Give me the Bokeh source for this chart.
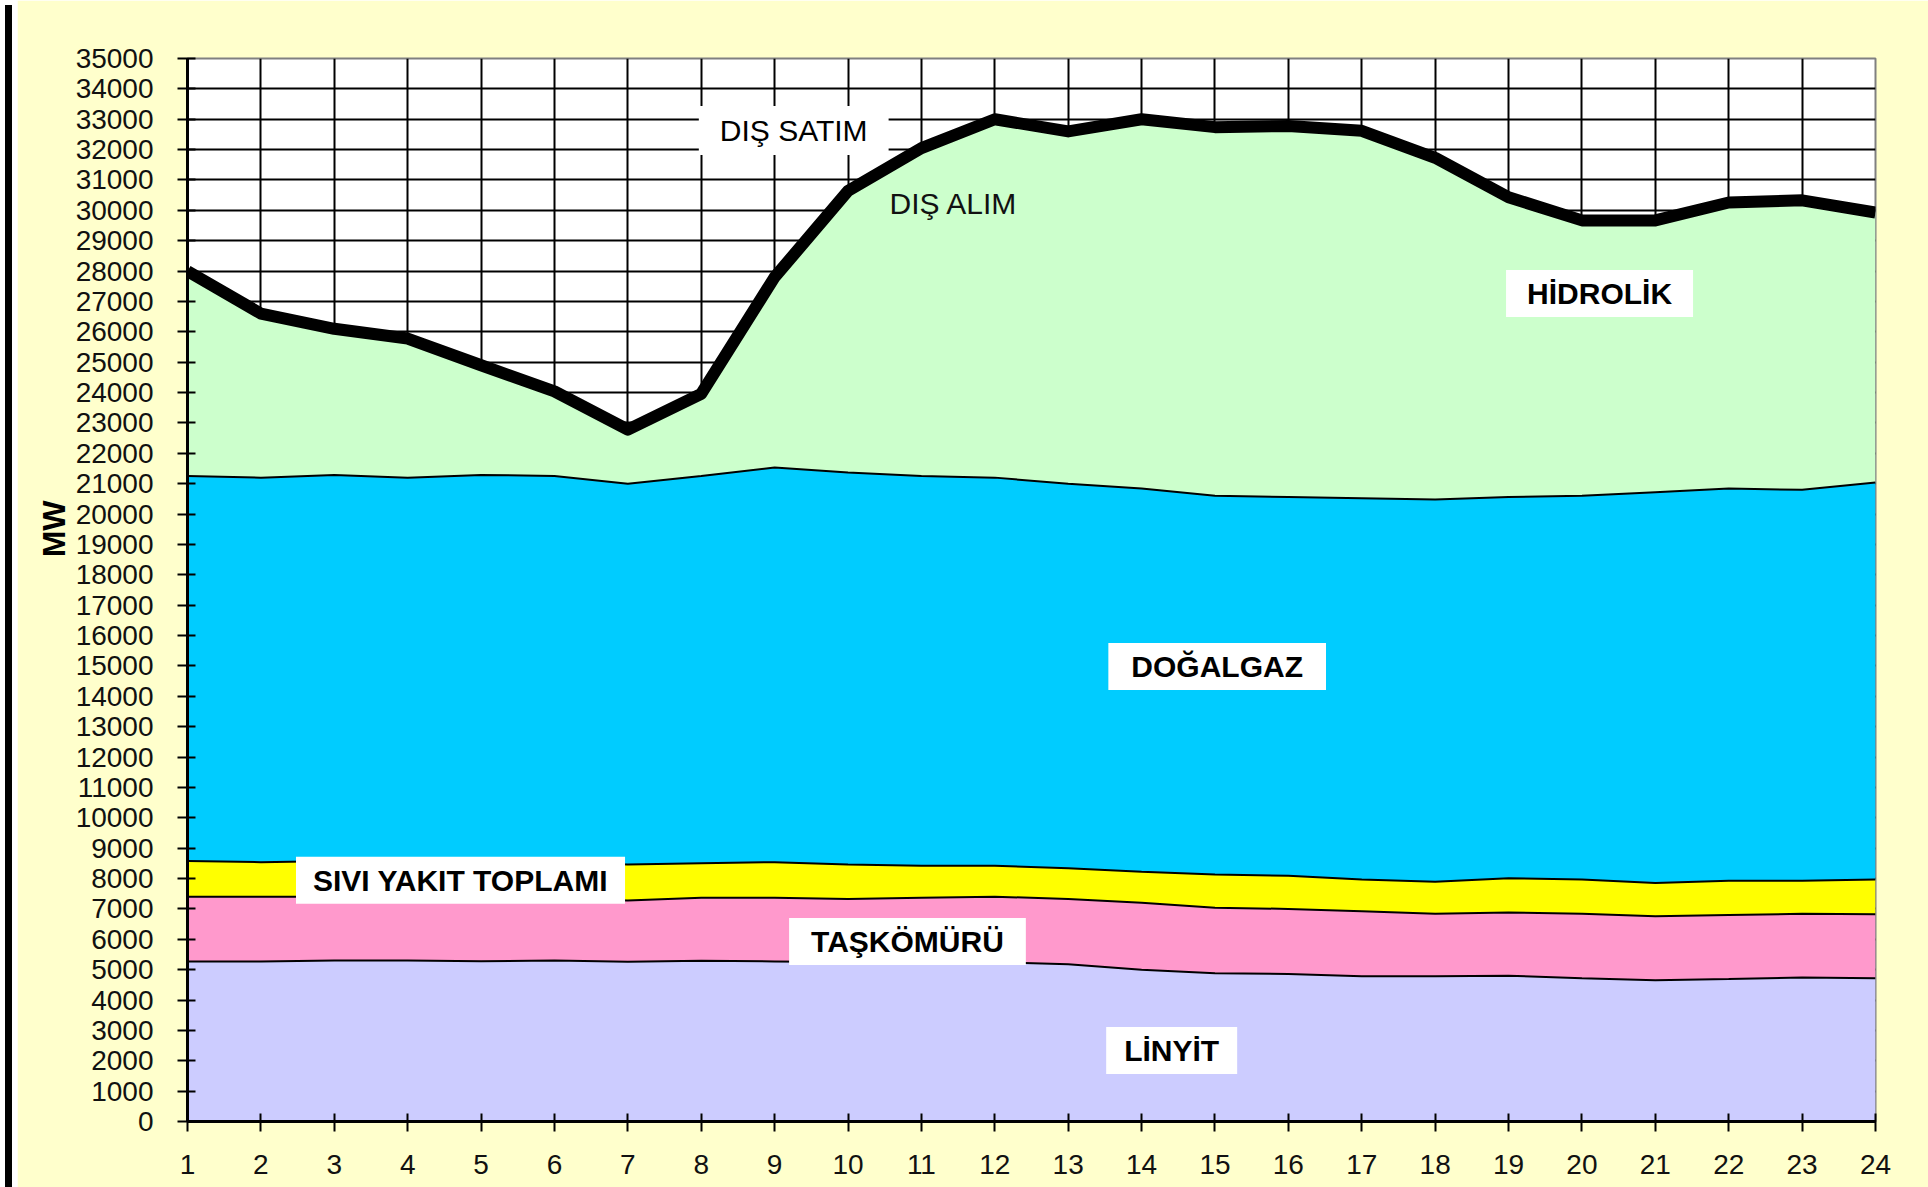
import numpy as np
from bokeh.plotting import figure
from bokeh.models import Range1d, FixedTicker, Label, Div, ColumnDataSource, Title
from bokeh.layouts import row
from bokeh.embed import file_html
from bokeh.resources import INLINE

# ---- data (MW per hour) ----
hours = list(range(1, 25))
x_tick_labels = {h: str(h) for h in hours}
y_ticks = list(range(0, 35001, 1000))

linyit = [5270, 5270, 5300, 5300, 5280, 5300, 5260, 5290, 5270, 5250, 5250, 5250,
          5180, 5000, 4880, 4860, 4780, 4780, 4800, 4720, 4650, 4690, 4740, 4720]
taskomuru = [2130, 2130, 2100, 2070, 2050, 2030, 2020, 2080, 2100, 2080, 2120, 2150,
             2150, 2200, 2160, 2140, 2140, 2060, 2080, 2120, 2110, 2110, 2100, 2100]
sivi_yakit = [1180, 1140, 1180, 1210, 1250, 1210, 1180, 1130, 1170, 1130, 1050, 1020,
              1010, 1020, 1090, 1090, 1050, 1050, 1130, 1130, 1090, 1130, 1090, 1150]
dogalgaz = [12670, 12660, 12710, 12620, 12710, 12710, 12540, 12750, 12990, 12910, 12830, 12780,
            12660, 12620, 12470, 12470, 12550, 12590, 12550, 12630, 12870, 12910, 12870, 13070]
hidrolik = [6750, 5400, 4810, 4580, 3610, 2790, 1780, 2710, 6270, 9270, 10800, 11800,
            11600, 12160, 12140, 12220, 12100, 11250, 9870, 9070, 8950, 9420, 9530, 8890]

series = ["linyit", "taskomuru", "sivi_yakit", "dogalgaz", "hidrolik"]
colors = ["#CCCCFF", "#FF99CC", "#FFFF00", "#00CCFF", "#CCFFCC"]

src = ColumnDataSource(dict(hour=hours, linyit=linyit, taskomuru=taskomuru,
                            sivi_yakit=sivi_yakit, dogalgaz=dogalgaz, hidrolik=hidrolik))

FONT = "Liberation Sans"

p = figure(width=1913, height=1187, output_backend="svg", toolbar_location=None,
           x_range=Range1d(1, 24), y_range=Range1d(0, 35000),
           min_border_left=170, min_border_right=55, min_border_top=58, min_border_bottom=66)
p.border_fill_color = "#FFFFCC"
p.background_fill_color = "#FFFFFF"
p.outline_line_color = "#808080"
p.outline_line_width = 2

p.varea_stack(stackers=series, x="hour", color=colors, source=src)

# boundary lines between layers
stack = np.cumsum(np.array([linyit, taskomuru, sivi_yakit, dogalgaz]), axis=0)
for row_vals in stack:
    p.line(hours, row_vals, line_color="#000000", line_width=2)

total = np.sum(np.array([linyit, taskomuru, sivi_yakit, dogalgaz, hidrolik]), axis=0)
p.line(hours, total, line_color="#000000", line_width=12, line_join="round")

# axes
p.xaxis.ticker = FixedTicker(ticks=hours)
p.xaxis.major_label_overrides = x_tick_labels
p.yaxis.ticker = FixedTicker(ticks=y_ticks)
for ax in (p.xaxis[0], p.yaxis[0]):
    ax.axis_line_color = "#000000"
    ax.axis_line_width = 3
    ax.major_tick_line_color = "#000000"
    ax.major_tick_line_width = 2
    ax.major_tick_in = 8
    ax.major_tick_out = 10
    ax.minor_tick_line_color = None
    ax.major_label_text_font = FONT
    ax.major_label_text_font_size = "28px"
    ax.major_label_text_color = "#111111"
p.xaxis.major_label_standoff = 23
p.yaxis.major_label_standoff = 24

p.xgrid.ticker = FixedTicker(ticks=hours)
p.ygrid.ticker = FixedTicker(ticks=y_ticks)
p.xgrid.grid_line_color = "#000000"
p.ygrid.grid_line_color = "#000000"
p.xgrid.grid_line_width = 2
p.ygrid.grid_line_width = 2

# y axis title "MW" (rotated, placed above the middle like the original)
p.add_layout(Title(text="MW", align="right", offset=442, vertical_align="middle",
                   text_font=FONT, text_font_size="32px", text_font_style="bold",
                   text_color="#000000", standoff=0), "left")

# annotations
def box_label(text, x, y, bold=True, pad=(20, 7)):
    p.add_layout(Label(x=x, y=y, text=text, text_font=FONT, text_font_size="30px",
                       text_font_style="bold" if bold else "normal",
                       text_color="#000000", text_align="center", text_baseline="middle",
                       background_fill_color="#FFFFFF", padding=pad))

box_label("DIŞ SATIM", 9.26, 32630, bold=False, pad=(21, 8))
box_label("HİDROLİK", 20.24, 27260, pad=(21, 7))
box_label("DOĞALGAZ", 15.03, 14980, pad=(23, 7))
box_label("SIVI YAKIT TOPLAMI", 4.72, 7940, pad=(17, 7))
box_label("TAŞKÖMÜRÜ", 10.81, 5930, pad=(22, 7))
box_label("LİNYİT", 14.41, 2340, pad=(18, 7))

p.add_layout(Label(x=11.44, y=30230, text="DIŞ ALIM", text_font=FONT, text_font_size="30px",
                   text_color="#111111", text_align="center", text_baseline="middle"))

left_bar = Div(width=7, height=1187, styles={"background-color": "#000000"})
layout = row(left_bar, p, spacing=0)

open("out.html", "w").write(file_html(layout, INLINE))
